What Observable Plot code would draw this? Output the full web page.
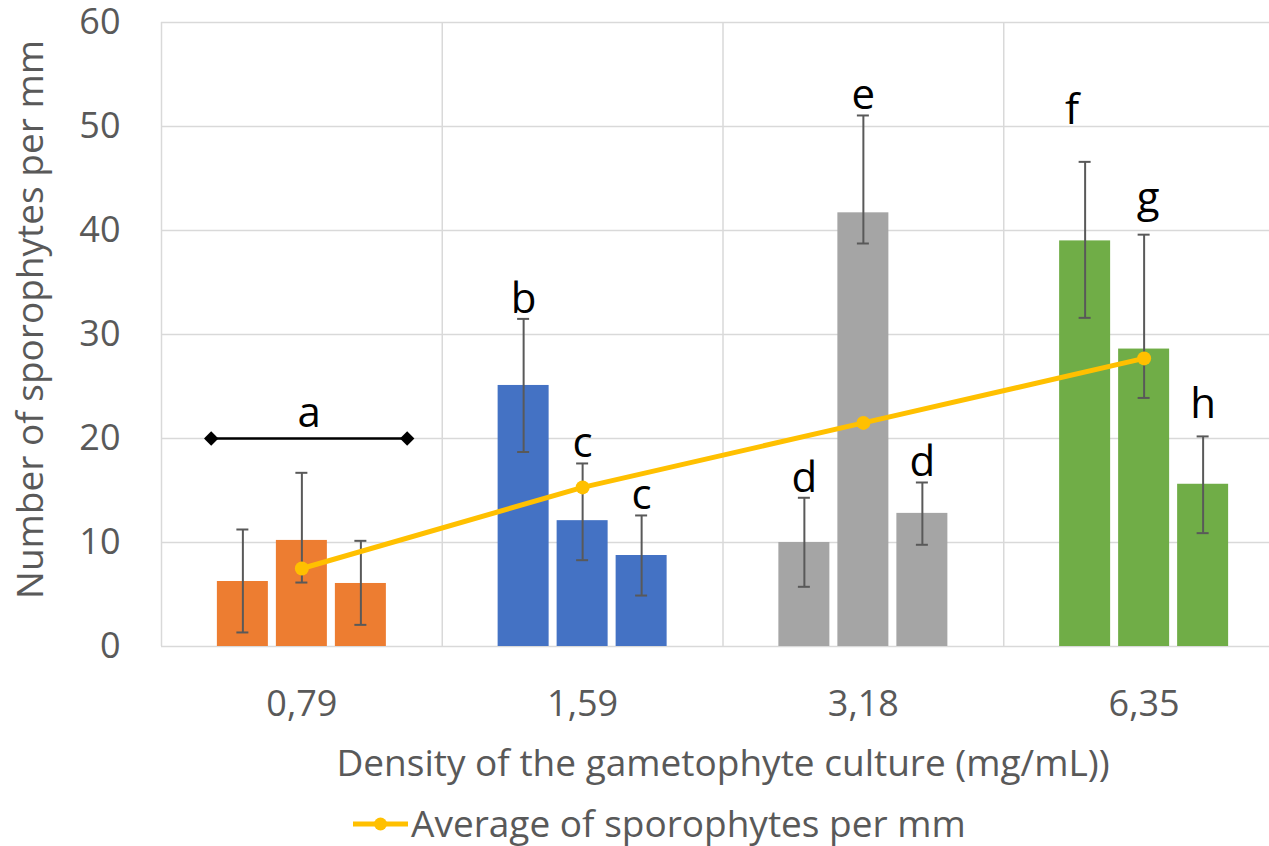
<!DOCTYPE html>
<html>
<head>
<meta charset="utf-8">
<script src="https://cdn.jsdelivr.net/npm/d3@7"></script>
<script src="https://cdn.jsdelivr.net/npm/@observablehq/plot@0.6"></script>
<style>
  html, body { margin: 0; padding: 0; background: #fff; overflow: hidden; }
  #chart { position: relative; width: 1290px; height: 846px; font-family: "Open Sans", sans-serif; }
  .legend { position: absolute; left: 0; top: 801px; width: 1290px; height: 44px; }
  .legend svg { position: absolute; left: 350px; top: 16px; }
  .legend span { position: absolute; left: 411px; top: 0; font-size: 37px; color: #595959; line-height: 44px; white-space: nowrap; }
</style>
</head>
<body>
<div id="chart"></div>
<script>
// Culture densities (mg/mL), one group of three replicate bars each
const densities = ["0,79", "1,59", "3,18", "6,35"];

// Sporophytes per mm for each replicate, grouped by density
const values  = [[6.25, 10.2, 6.06], [25.1, 12.1, 8.75], [10.0, 41.7, 12.8], [39.0, 28.6, 15.6]];
// Lower and upper ends of each error bar
const errLow  = [[1.35, 6.15, 2.08], [18.7, 8.3, 4.9], [5.74, 38.75, 9.78], [31.6, 23.9, 10.9]];
const errHigh = [[11.25, 16.7, 10.16], [31.5, 17.6, 12.6], [14.3, 51.06, 15.77], [46.6, 39.6, 20.2]];
// Significance letters per replicate (the first group shares one letter)
const letters = [[null, null, null], ["b", "c", "c"], ["d", "e", "d"], ["f", "g", "h"]];
const groupLetter = {group: 0, letter: "a", value: 20};

// Average of sporophytes per mm for each density
const averages = [7.5, 15.3, 21.5, 27.7];

// Styling
const palette = ["#ED7D31", "#4472C4", "#A5A5A5", "#70AD47"];
const gold = "#FFC000";
const grid = "#D9D9D9";
const ink = "#595959";

// Layout within one density group (group spans one unit on x)
const barStep = 59 / 280.75;
const barWidth = 51 / 280.75;
const capHalf = 6 / 280.75;

const bars = [];
densities.forEach((dens, g) => {
  values[g].forEach((v, j) => {
    const cx = g + 0.5 + (j - 1) * barStep;
    bars.push({
      density: dens, g, j, value: v, lo: errLow[g][j], hi: errHigh[g][j],
      letter: letters[g][j], cx, x1: cx - barWidth / 2, x2: cx + barWidth / 2
    });
  });
});
const avgData = averages.map((a, g) => ({density: densities[g], cx: g + 0.5, avg: a}));

// Bracket for the shared letter over the first group
const bracket = [{x1: groupLetter.group + 0.177, x2: groupLetter.group + 0.875, y: groupLetter.value, letter: groupLetter.letter}];

// Per-letter nudges in pixels [dx, dy] relative to the top of the error bar
const nudge = {f: [-13, -38], g: [4, -23], h: [0, -18]};
const letterMarks = [];
const plain = bars.filter(d => d.letter && !nudge[d.letter]);
letterMarks.push(Plot.text(plain, {x: "cx", y: "hi", text: "letter", lineAnchor: "bottom", dy: -6, fontSize: 42, fill: "black"}));
for (const [k, [dx, dy]] of Object.entries(nudge)) {
  letterMarks.push(Plot.text(bars.filter(d => d.letter === k), {x: "cx", y: "hi", text: "letter", lineAnchor: "bottom", dx, dy, fontSize: 42, fill: "black"}));
}

const chart = Plot.plot({
  width: 1290,
  height: 795,
  marginLeft: 161,
  marginRight: 6,
  marginTop: 22,
  marginBottom: 149,
  style: {fontFamily: "'Open Sans', sans-serif", fontSize: "36px", color: ink, background: "white", maxWidth: "none", overflow: "visible"},
  x: {type: "linear", domain: [0, 4]},
  y: {domain: [0, 60]},
  color: {domain: densities, range: palette},
  marks: [
    Plot.gridY(d3.range(10, 61, 10), {stroke: grid, strokeOpacity: 1, strokeWidth: 1.5}),
    Plot.gridX(d3.range(0, 5), {stroke: grid, strokeOpacity: 1, strokeWidth: 1.5}),
    Plot.ruleY([0], {stroke: grid, strokeWidth: 1.5}),
    Plot.axisY({ticks: d3.range(0, 61, 10), tickSize: 0, tickPadding: 41, label: null, fill: ink, fontSize: 36}),
    Plot.axisX({ticks: densities.map((_, i) => i + 0.5), tickFormat: t => densities[Math.floor(t)], tickSize: 0, tickPadding: 44, label: null, fill: ink, fontSize: 36}),
    Plot.rectY(bars, {x1: "x1", x2: "x2", y: "value", fill: "density"}),
    // error bars with caps
    Plot.ruleX(bars, {x: "cx", y1: "lo", y2: "hi", stroke: ink, strokeWidth: 2}),
    Plot.ruleY(bars, {y: "hi", x1: d => d.cx - capHalf, x2: d => d.cx + capHalf, stroke: ink, strokeWidth: 2}),
    Plot.ruleY(bars, {y: "lo", x1: d => d.cx - capHalf, x2: d => d.cx + capHalf, stroke: ink, strokeWidth: 2}),
    // average line
    Plot.line(avgData, {x: "cx", y: "avg", stroke: gold, strokeWidth: 5}),
    Plot.dot(avgData, {x: "cx", y: "avg", r: 7, fill: gold}),
    // shared letter bracket
    Plot.ruleY(bracket, {x1: "x1", x2: "x2", y: "y", stroke: "black", strokeWidth: 2.5}),
    Plot.dot(bracket, {x: "x1", y: "y", symbol: "diamond2", r: 6.5, fill: "black"}),
    Plot.dot(bracket, {x: "x2", y: "y", symbol: "diamond2", r: 6.5, fill: "black"}),
    Plot.text(bracket, {x: d => (d.x1 + d.x2) / 2, y: "y", text: "letter", lineAnchor: "bottom", dy: -12, fontSize: 42, fill: "black"}),
    ...letterMarks,
    // axis titles
    Plot.text(["Number of sporophytes per mm"], {frameAnchor: "left", textAnchor: "middle", lineAnchor: "middle", dx: -130, dy: -15, rotate: -90, fontSize: 37, fill: ink}),
    Plot.text(["Density of the gametophyte culture (mg/mL))"], {frameAnchor: "bottom", textAnchor: "middle", lineAnchor: "middle", dy: 118, fontSize: 37, fill: ink})
  ]
});

const root = document.getElementById("chart");
root.appendChild(chart);

// Legend for the average line
const legend = document.createElement("div");
legend.className = "legend";
legend.innerHTML = `<svg width="60" height="14"><line x1="3" y1="7" x2="58" y2="7" stroke="${gold}" stroke-width="5"/><circle cx="30.5" cy="7" r="6.5" fill="${gold}"/></svg><span>Average of sporophytes per mm</span>`;
root.appendChild(legend);
</script>
</body>
</html>
